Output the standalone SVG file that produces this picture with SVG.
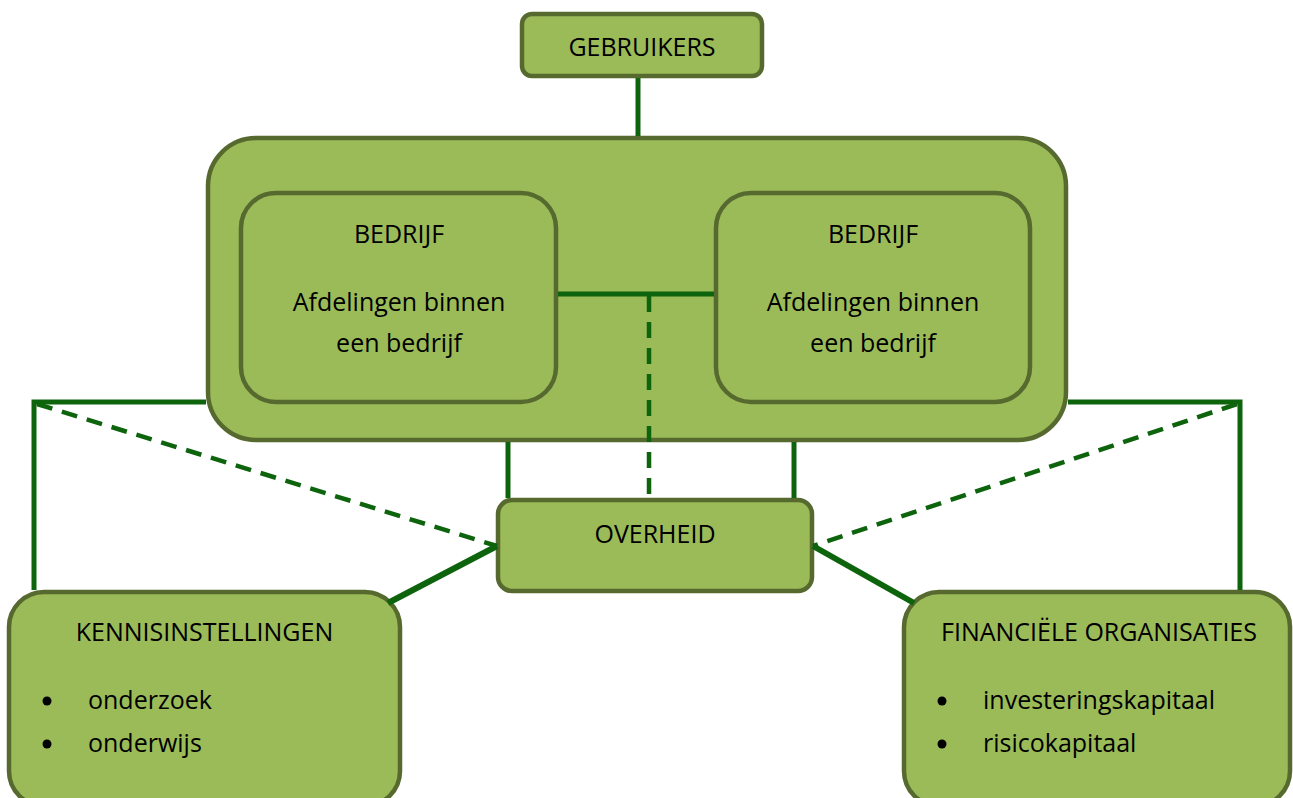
<svg xmlns="http://www.w3.org/2000/svg" width="1293" height="798" viewBox="0 0 1293 798">
<style>
.box{fill:#9bbb59;stroke:#566a2f;stroke-width:4.5}
.t{font-family:"Open Sans","Noto Sans",sans-serif;font-size:25px;fill:#000}
.c{text-anchor:middle}
.ln{stroke:#0d640d;stroke-width:5;fill:none;stroke-linecap:butt}
.thick{stroke-width:6}
.dash{stroke:#0d640d;stroke-width:4.5;fill:none;stroke-dasharray:16 10}
</style>
<rect width="1293" height="798" fill="#fff"/>
<g id="gebruikers">
<rect class="box" x="522" y="14" width="240" height="62" rx="10"/>
<text class="t c" x="642" y="56">GEBRUIKERS</text>
</g>
<g id="container">
<rect class="box" x="208" y="138" width="858" height="302" rx="48"/>
</g>
<g id="bedrijf-links">
<rect class="box" x="241" y="193" width="315" height="209" rx="35"/>
<text class="t c" x="399" y="243">BEDRIJF</text>
<text class="t c" x="399" y="311">Afdelingen binnen</text>
<text class="t c" x="399" y="352">een bedrijf</text>
</g>
<g id="bedrijf-rechts">
<rect class="box" x="716" y="193" width="314" height="209" rx="35"/>
<text class="t c" x="873" y="243">BEDRIJF</text>
<text class="t c" x="873" y="311">Afdelingen binnen</text>
<text class="t c" x="873" y="352">een bedrijf</text>
</g>
<g id="overheid">
<rect class="box" x="498" y="500" width="314" height="91" rx="14"/>
<text class="t c" x="655" y="543">OVERHEID</text>
</g>
<g id="kennisinstellingen">
<rect class="box" x="9" y="592" width="391" height="214" rx="35"/>
<text class="t c" x="204.5" y="641">KENNISINSTELLINGEN</text>
<circle cx="47" cy="701" r="4.5" fill="#000"/>
<circle cx="47" cy="744" r="4.5" fill="#000"/>
<text class="t" x="88" y="709">onderzoek</text>
<text class="t" x="88" y="752">onderwijs</text>
</g>
<g id="financiele-organisaties">
<rect class="box" x="904" y="592" width="386" height="214" rx="35"/>
<text class="t c" x="1099" y="641">FINANCIËLE ORGANISATIES</text>
<circle cx="942" cy="701" r="4.5" fill="#000"/>
<circle cx="942" cy="744" r="4.5" fill="#000"/>
<text class="t" x="983" y="709">investeringskapitaal</text>
<text class="t" x="983" y="752">risicokapitaal</text>
</g>
<g id="connectors">
<line class="ln" x1="638" y1="78" x2="638" y2="136"/>
<line class="ln" x1="558" y1="294" x2="714" y2="294"/>
<line class="dash" x1="649" y1="296" x2="649" y2="498"/>
<line class="ln" x1="508" y1="442" x2="508" y2="498"/>
<line class="ln" x1="794" y1="442" x2="794" y2="498"/>
<polyline class="ln" points="206,402 34,402 34,590"/>
<polyline class="ln" points="1068,402 1240,402 1240,590"/>
<line class="dash" x1="37" y1="404" x2="497" y2="546"/>
<line class="dash" x1="1237" y1="404" x2="813" y2="546"/>
<line class="ln thick" x1="497" y1="546" x2="388" y2="603"/>
<line class="ln thick" x1="813" y1="546" x2="914" y2="603"/>
</g>
</svg>
